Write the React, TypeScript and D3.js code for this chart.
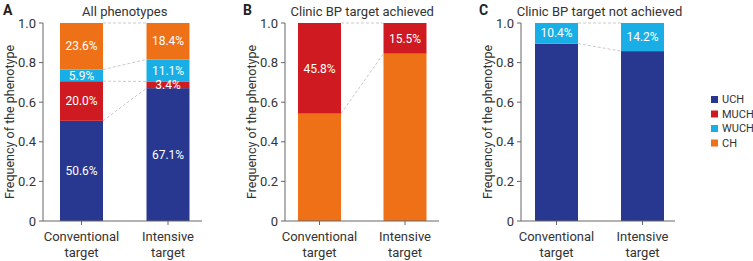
import React from "react";
import * as d3 from "d3";

const categories = ["Conventional target", "Intensive target"];
const phenotypes = ["UCH", "MUCH", "WUCH", "CH"];
const colors = ["#283891", "#cf1a21", "#19afe6", "#ee7118"];

const panelLetters = ["A", "B", "C"];
const panelTitles = ["All phenotypes", "Clinic BP target achieved", "Clinic BP target not achieved"];
// stacking order bottom -> top per panel
const panelOrders = [
  ["UCH", "MUCH", "WUCH", "CH"],
  ["CH", "MUCH"],
  ["UCH", "WUCH"],
];
// values (%) per panel, per category, in stacking order
const panelAValues = [
  [50.6, 20.0, 5.9, 23.6],
  [67.1, 3.4, 11.1, 18.4],
];
const panelBValues = [
  [54.2, 45.8],
  [84.5, 15.5],
];
const panelCValues = [
  [89.6, 10.4],
  [85.8, 14.2],
];
// which segments carry a text label
const panelALabels = [
  [true, true, true, true],
  [true, true, true, true],
];
const panelBLabels = [
  [false, true],
  [false, true],
];
const panelCLabels = [
  [false, true],
  [false, true],
];
const yTicks = [0, 0.2, 0.4, 0.6, 0.8, 1.0];

const panelValues = [panelAValues, panelBValues, panelCValues];
const panelLabelFlags = [panelALabels, panelBLabels, panelCLabels];

const W = 753;
const H = 261;
const axisXs = [43, 285, 521];
const axisWidths = [159, 154, 154];
const centerOffsets = [[38.5, 125], [34.5, 120], [35.5, 121.5]];
const barW = 43;
const yTop = 23;
const yBottom = 221;
const font = "Roboto, 'Noto Sans', sans-serif";

function Panel({ idx }: { idx: number }) {
  const ax = axisXs[idx];
  const y = d3.scaleLinear().domain([0, 1]).range([yBottom, yTop]);
  const x = d3
    .scalePoint<string>()
    .domain(categories)
    .range([ax + centerOffsets[idx][0], ax + centerOffsets[idx][1]]);
  const order = panelOrders[idx];
  const vals = panelValues[idx];
  const flags = panelLabelFlags[idx];

  const stacks = vals.map((row) => {
    let acc = 0;
    return row.map((v) => {
      const y0 = acc;
      acc += v / 100;
      return { y0, y1: Math.min(acc, 1) };
    });
  });

  const fmt = (t: number) => (t === 0 ? "0" : d3.format(".1f")(t));
  const centerTitle = (x(categories[0])! + x(categories[1])!) / 2;

  return (
    <g>
      <text x={ax - 40 + (idx === 0 ? 0 : -2)} y={15} fontSize={14} fontWeight="bold" fill="#222" fontFamily={font}>
        {panelLetters[idx]}
      </text>
      <text x={centerTitle} y={16} fontSize={13} textAnchor="middle" fill="#333" fontFamily={font}>
        {panelTitles[idx]}
      </text>
      {/* connectors */}
      {stacks[0].map((s, i) => (
        <line
          key={"c" + i}
          x1={x(categories[0])! + barW / 2}
          x2={x(categories[1])! - barW / 2}
          y1={y(s.y1)}
          y2={y(stacks[1][i].y1)}
          stroke="#bbb"
          strokeWidth={0.8}
          strokeDasharray="3,2"
        />
      ))}
      {stacks.map((st, ci) =>
        st.map((s, si) => (
          <rect
            key={ci + "-" + si}
            x={x(categories[ci])! - barW / 2}
            width={barW}
            y={y(s.y1)}
            height={y(s.y0) - y(s.y1)}
            fill={colors[phenotypes.indexOf(order[si])]}
          />
        ))
      )}
      {stacks.map((st, ci) =>
        st.map((s, si) =>
          flags[ci][si] ? (
            <text
              key={"t" + ci + "-" + si}
              x={x(categories[ci])!}
              y={(y(s.y0) + y(s.y1)) / 2}
              dy="0.35em"
              fontSize={12}
              textAnchor="middle"
              fill="#fff"
              fontFamily={font}
            >
              {d3.format(".1f")(vals[ci][si]) + "%"}
            </text>
          ) : null
        )
      )}
      {/* y axis */}
      <line x1={ax} x2={ax} y1={yTop} y2={yBottom} stroke="#666" strokeWidth={1} />
      {yTicks.map((t) => (
        <g key={t}>
          <line x1={ax - 4} x2={ax} y1={y(t)} y2={y(t)} stroke="#666" />
          <text x={ax - 7} y={y(t)} dy="0.35em" fontSize={13} textAnchor="end" fill="#333" fontFamily={font}>
            {fmt(t)}
          </text>
        </g>
      ))}
      {/* x axis */}
      <line x1={ax} x2={ax + axisWidths[idx]} y1={yBottom} y2={yBottom} stroke="#666" />
      {categories.map((c) => (
        <g key={c}>
          <line x1={x(c)!} x2={x(c)!} y1={yBottom} y2={yBottom + 4} stroke="#666" />
          {c.split(" ").map((w, wi) => (
            <text
              key={w}
              x={x(c)!}
              y={yBottom + 20 + wi * 16}
              fontSize={13}
              textAnchor="middle"
              fill="#333"
              fontFamily={font}
            >
              {w}
            </text>
          ))}
        </g>
      ))}
      <text
        transform={`translate(${ax - 29},${(yTop + yBottom) / 2}) rotate(-90)`}
        fontSize={12.5}
        textAnchor="middle"
        fill="#333"
        fontFamily={font}
      >
        Frequency of the phenotype
      </text>
    </g>
  );
}

export default function App() {
  return (
    <svg width={W} height={H} style={{ display: "block", position: "absolute", left: 0, top: 0 }}>
      <rect width={W} height={H} fill="#fff" />
      {[0, 1, 2].map((i) => (
        <Panel key={i} idx={i} />
      ))}
      {phenotypes.map((p, i) => (
        <g key={p}>
          <rect x={711} y={96 + i * 14.5} width={7} height={7} fill={colors[i]} />
          <text x={722} y={99.5 + i * 14.5} dy="0.35em" fontSize={11} fill="#333" fontFamily={font}>
            {p}
          </text>
        </g>
      ))}
    </svg>
  );
}
